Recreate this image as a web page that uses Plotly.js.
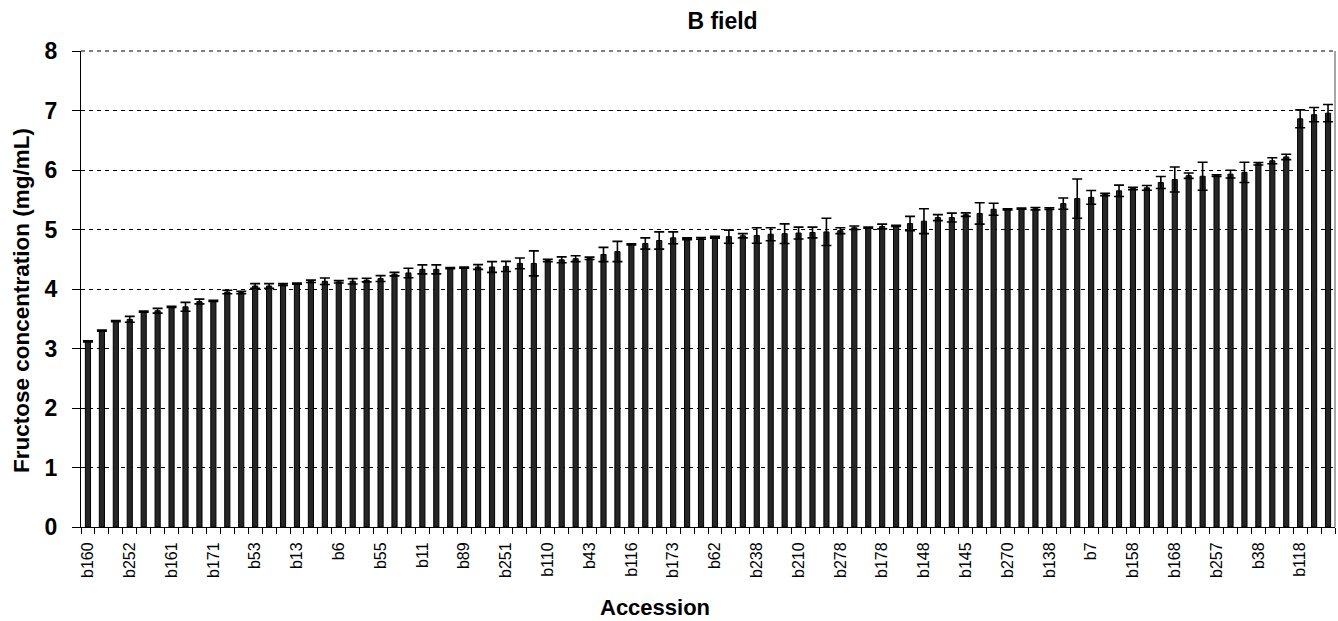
<!DOCTYPE html>
<html>
<head>
<meta charset="utf-8">
<script src="https://cdn.plot.ly/plotly-3.0.1.min.js"></script>
<style>html,body{margin:0;padding:0;background:#fff;}#chart{width:1338px;height:621px;}</style>
</head>
<body>
<div id="chart"></div>
<script>
// Accession labels shown on the axis (every third bar)
const tickLabels = ["b160","b252","b161","b171","b53","b13","b6","b55","b11","b89",
  "b251","b110","b43","b116","b173","b62","b238","b210","b278","b178",
  "b148","b145","b270","b138","b7","b158","b168","b257","b38","b118"];

// Mean fructose concentration (mg/mL), sorted ascending
const fructoseMean = [
  3.12,3.30,3.46,3.49,3.62,3.635,3.70,3.70,3.79,3.80,
  3.95,3.94,4.05,4.05,4.075,4.09,4.13,4.13,4.12,4.13,
  4.15,4.175,4.25,4.27,4.33,4.33,4.35,4.36,4.37,4.37,
  4.38,4.43,4.43,4.48,4.49,4.51,4.515,4.58,4.63,4.75,
  4.765,4.815,4.86,4.845,4.85,4.87,4.88,4.895,4.90,4.92,
  4.93,4.94,4.95,4.96,4.98,5.03,5.03,5.05,5.06,5.10,
  5.14,5.20,5.20,5.25,5.27,5.34,5.34,5.35,5.35,5.35,
  5.435,5.52,5.54,5.59,5.65,5.69,5.70,5.79,5.84,5.905,
  5.895,5.905,5.93,5.96,6.105,6.155,6.22,6.86,6.93,6.955];

// Standard error of each mean
const fructoseErr = [
  0.01,0.01,0.01,0.05,0.01,0.04,0.01,0.075,0.04,0.01,
  0.03,0.02,0.04,0.04,0.015,0.01,0.02,0.055,0.02,0.045,
  0.03,0.05,0.03,0.08,0.075,0.075,0.01,0.01,0.04,0.09,
  0.085,0.09,0.21,0.02,0.05,0.05,0.02,0.12,0.17,0.01,
  0.095,0.145,0.10,0.015,0.015,0.015,0.11,0.035,0.13,0.11,
  0.165,0.10,0.09,0.23,0.05,0.03,0.01,0.04,0.01,0.12,
  0.21,0.05,0.075,0.03,0.18,0.10,0.01,0.01,0.02,0.015,
  0.095,0.33,0.115,0.02,0.095,0.02,0.04,0.10,0.21,0.045,
  0.235,0.015,0.065,0.17,0.02,0.05,0.045,0.15,0.12,0.145];

const n = fructoseMean.length;
const xIdx = fructoseMean.map((_, i) => i);
const labelPos = tickLabels.map((_, k) => k * 3);
const boundaries = [];
for (let i = 0; i <= n; i++) boundaries.push(i - 0.5);

const FONT = "Liberation Sans, Arial, Helvetica, sans-serif";

const trace = {
  type: "bar",
  x: xIdx,
  y: fructoseMean,
  width: 0.37,
  marker: { color: "#262626", line: { color: "#000", width: 1 } },
  error_y: { type: "data", array: fructoseErr, visible: true, color: "#000", thickness: 1.6, width: 5 },
  hoverinfo: "y"
};

const layout = {
  width: 1338, height: 621,
  margin: { l: 81, r: 3, t: 51, b: 94 },
  paper_bgcolor: "#fff", plot_bgcolor: "#fff",
  showlegend: false,
  font: { family: FONT, color: "#000" },
  title: { text: "<b>B field</b>", font: { family: FONT, size: 23, color: "#000" },
           xref: "container", x: 0.540, xanchor: "center", yref: "container", y: 0.966, yanchor: "middle" },
  xaxis: {
    range: [-0.5, n - 0.5],
    tickmode: "array", tickvals: labelPos, ticktext: tickLabels,
    tickangle: -90, ticks: "", ticklabelstandoff: 8,
    tickfont: { family: FONT, size: 16, color: "#000" },
    showgrid: false, zeroline: false,
    showline: true, linecolor: "#000", linewidth: 1,
    minor: { tickmode: "array", tickvals: boundaries, ticks: "outside", ticklen: 6, tickcolor: "#000", tickwidth: 1, showgrid: false },
    fixedrange: true
  },
  yaxis: {
    range: [0, 8], dtick: 1, tick0: 0,
    ticks: "outside", ticklen: 8, tickcolor: "#000", tickwidth: 1,
    ticklabelstandoff: 10,
    tickfont: { family: FONT, size: 23, color: "#000", weight: "bold" },
    showgrid: true, gridcolor: "#000", gridwidth: 1, griddash: "4px,4px",
    zeroline: false,
    showline: true, linecolor: "#000", linewidth: 1,
    fixedrange: true
  },
  shapes: [
    { type: "line", xref: "paper", yref: "paper", x0: 0, x1: 1, y0: 1, y1: 1, line: { color: "#000", width: 1, dash: "4px,4px" } },
    { type: "line", xref: "paper", yref: "paper", x0: 1, x1: 1, y0: 0, y1: 1, line: { color: "#888", width: 1.5 } }
  ],
  annotations: [
    { text: "<b>Accession</b>", xref: "paper", yref: "paper", x: 0.458, y: -0.169,
      xanchor: "center", yanchor: "middle", showarrow: false, font: { family: FONT, size: 22, color: "#000" } },
    { text: "<b>Fructose concentration (mg/mL)</b>", xref: "paper", yref: "paper", x: -0.047, y: 0.475,
      xanchor: "center", yanchor: "middle", textangle: -90, showarrow: false, font: { family: FONT, size: 22.5, color: "#000" } }
  ]
};

Plotly.newPlot("chart", [trace], layout, { displayModeBar: false, staticPlot: true });
</script>
</body>
</html>
